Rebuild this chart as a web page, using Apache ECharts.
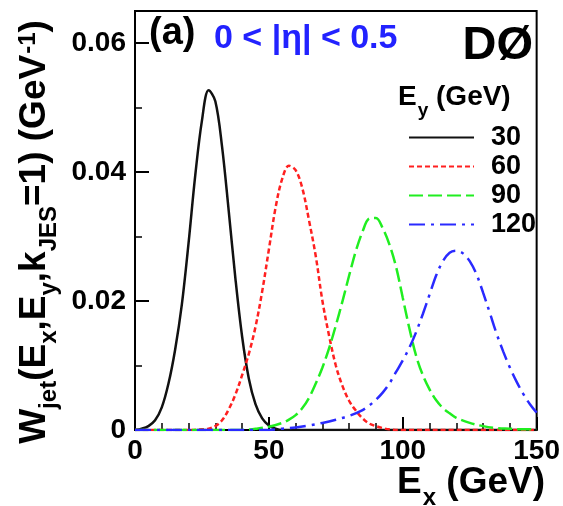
<!DOCTYPE html>
<html>
<head>
<meta charset="utf-8">
<script src="https://cdn.jsdelivr.net/npm/echarts@6/dist/echarts.min.js"></script>
<style>
  html, body { margin: 0; padding: 0; background: #fff; }
  #chart { width: 563px; height: 506px; }
</style>
</head>
<body>
<div id="chart"></div>
<script>
// Jet transfer functions W_jet(Ex, Ey) for four parton energies Ey, 0 < |eta| < 0.5
const seriesNames = ['30', '60', '90', '120'];

const ex30 = [0, 2.5, 5, 7.5, 10, 12.5, 15, 17.5, 20, 22.5, 25, 27.5, 30, 32.5, 35, 37.5, 40, 42.5, 45, 47.5, 50, 52.5, 55, 60, 80, 100, 120, 150];
const w30  = [0, 0.0002, 0.0006, 0.0015, 0.0035, 0.0072, 0.0125, 0.0195, 0.0290, 0.0395, 0.0480, 0.0527, 0.0510, 0.0440, 0.0340, 0.0235, 0.0145, 0.0080, 0.0040, 0.0018, 0.0007, 0.0002, 0, 0, 0, 0, 0, 0];

const ex60 = [0, 20, 25, 27.5, 30, 32.5, 35, 37.5, 40, 42.5, 45, 47.5, 50, 52.5, 55, 57.5, 60, 62.5, 65, 67.5, 70, 72.5, 75, 77.5, 80, 82.5, 85, 87.5, 90, 92.5, 95, 100, 120, 150];
const w60  = [0, 0, 0.0001, 0.0002, 0.0006, 0.0015, 0.0032, 0.0055, 0.0085, 0.0118, 0.0160, 0.0215, 0.0280, 0.0345, 0.0390, 0.0410, 0.0403, 0.0375, 0.0325, 0.0270, 0.0200, 0.0146, 0.0100, 0.0068, 0.0045, 0.0030, 0.0018, 0.0010, 0.0006, 0.0003, 0.0001, 0, 0, 0];

const ex90 = [0, 40, 45, 50, 55, 57.5, 60, 62.5, 65, 67.5, 70, 72.5, 75, 77.5, 80, 82.5, 85, 87.5, 90, 92.5, 95, 97.5, 100, 102.5, 105, 107.5, 110, 112.5, 115, 117.5, 120, 125, 130, 135, 140, 145, 150];
const w90  = [0, 0, 0.0002, 0.0005, 0.0011, 0.0016, 0.0023, 0.0034, 0.0050, 0.0072, 0.0097, 0.0127, 0.0162, 0.0200, 0.0240, 0.0278, 0.0308, 0.0328, 0.0329, 0.0313, 0.0288, 0.0253, 0.0205, 0.0157, 0.0115, 0.0085, 0.0063, 0.0046, 0.0034, 0.0026, 0.0019, 0.0011, 0.0006, 0.0003, 0.0002, 0.0001, 0.0001];

const ex120 = [0, 50, 55, 60, 65, 70, 75, 80, 85, 87.5, 90, 92.5, 95, 97.5, 100, 102.5, 105, 107.5, 110, 112.5, 115, 117.5, 120, 122.5, 125, 127.5, 130, 132.5, 135, 137.5, 140, 142.5, 145, 147.5, 150];
const w120  = [0, 0, 0.0002, 0.0004, 0.0007, 0.0011, 0.0016, 0.0022, 0.0031, 0.0038, 0.0047, 0.0058, 0.0072, 0.0090, 0.0108, 0.0128, 0.0152, 0.0180, 0.0210, 0.0240, 0.0262, 0.0275, 0.0278, 0.0274, 0.0262, 0.0242, 0.0213, 0.0182, 0.0150, 0.0122, 0.0097, 0.0075, 0.0056, 0.0040, 0.0027];

const xTicks = [0, 50, 100, 150];
const yTicks = [0, 0.02, 0.04, 0.06];
const yMinorTicks = [0.01, 0.03, 0.05];

const FONT = '"Liberation Sans", Arial, Helvetica, sans-serif';

function pairs(xs, ys) {
  return xs.map((x, i) => [x, ys[i]]);
}

const styles = [
  { color: '#111111', type: 'solid' },
  { color: '#ff2020', type: [5, 3] },
  { color: '#20ee20', type: [14, 5] },
  { color: '#2a2aff', type: [16, 6, 3, 6] }
];
const curves = [pairs(ex30, w30), pairs(ex60, w60), pairs(ex90, w90), pairs(ex120, w120)];

const chart = echarts.init(document.getElementById('chart'), null, { renderer: 'canvas' });

const option = {
  animation: false,
  backgroundColor: '#ffffff',
  grid: {
    left: 135, right: 19, top: 11, bottom: 76,
    show: true, borderColor: '#000', borderWidth: 2, backgroundColor: 'transparent'
  },
  xAxis: {
    type: 'value',
    min: 0, max: 150, interval: 50,
    axisLine: { show: true, onZero: false, lineStyle: { color: '#000', width: 2 } },
    axisTick: { show: true, inside: true, length: 13, lineStyle: { color: '#000', width: 2 } },
    minorTick: { show: true, splitNumber: 5, length: 7, lineStyle: { color: '#000', width: 1.5 } },
    splitLine: { show: false },
    minorSplitLine: { show: false },
    axisLabel: {
      margin: 7, color: '#000', fontSize: 28, fontWeight: 'bold', fontFamily: FONT,
      customValues: xTicks
    }
  },
  yAxis: [
    {
      type: 'value',
      min: 0, max: 0.065, interval: 0.02,
      position: 'left',
      axisLine: { show: true, onZero: false, lineStyle: { color: '#000', width: 2 } },
      axisTick: { show: true, inside: true, length: 14, lineStyle: { color: '#000', width: 2 }, customValues: yTicks },
      splitLine: { show: false },
      axisLabel: {
        margin: 9, color: '#000', fontSize: 28, fontWeight: 'bold', fontFamily: FONT,
        customValues: yTicks,
        formatter: v => (v === 0 ? '0' : String(+v.toFixed(2)))
      }
    },
    {
      type: 'value',
      min: 0, max: 0.065,
      position: 'left',
      axisLine: { show: false },
      axisTick: { show: true, inside: true, length: 7, lineStyle: { color: '#000', width: 1.5 }, customValues: yMinorTicks },
      axisLabel: { show: false },
      splitLine: { show: false }
    }
  ],
  legend: {
    orient: 'vertical',
    left: 403, top: 119,
    itemWidth: 65, itemHeight: 12, itemGap: 2,
    data: seriesNames,
    itemStyle: { opacity: 0 },
    textStyle: {
      color: '#000', fontSize: 27, fontWeight: 'bold', fontFamily: FONT,
      lineHeight: 27, padding: [0, 0, 0, 12]
    },
    inactiveColor: '#000',
    selectedMode: false
  },
  series: seriesNames.map((name, i) => ({
    name: name,
    type: 'line',
    data: curves[i],
    smooth: 0.35,
    symbol: 'none',
    clip: true,
    z: 3 + i,
    lineStyle: { color: styles[i].color, width: 2.5, type: styles[i].type },
    itemStyle: { color: styles[i].color }
  })),
  graphic: [
    {
      type: 'text', left: 149, top: 15, z: 10,
      style: { text: '(a)', fill: '#000', font: 'bold 38px ' + FONT }
    },
    {
      type: 'text', left: 214, top: 22, z: 10,
      style: { text: '0 < |η| < 0.5', fill: '#2222ff', font: 'bold 34px ' + FONT }
    },
    {
      type: 'text', right: 30, top: 23, z: 10,
      style: { text: 'DØ', fill: '#000', font: 'bold 47px ' + FONT }
    },
    {
      type: 'text', left: 398, top: 83, z: 10,
      style: {
        text: '{m|E}{s|y}{m| (GeV)}',
        rich: {
          m: { fontSize: 28, fontWeight: 'bold', fontFamily: FONT, fill: '#000', lineHeight: 32, verticalAlign: 'top' },
          s: { fontSize: 19, fontWeight: 'bold', fontFamily: FONT, fill: '#000', lineHeight: 19, verticalAlign: 'top', padding: [18, 0, 0, 1] }
        }
      }
    },
    {
      type: 'text', right: 18, top: 464, z: 10,
      style: {
        text: '{m|E}{s|x}{m| (GeV)}',
        rich: {
          m: { fontSize: 37, fontWeight: 'bold', fontFamily: FONT, fill: '#000', lineHeight: 40, verticalAlign: 'top' },
          s: { fontSize: 24, fontWeight: 'bold', fontFamily: FONT, fill: '#000', lineHeight: 24, verticalAlign: 'top', padding: [22, 0, 0, 1] }
        }
      }
    },
    {
      type: 'text', x: 37, y: 232, rotation: Math.PI / 2, z: 10,
      style: {
        text: '{m|W}{s|jet}{m|(E}{s|x}{m|,E}{s|y}{m|,k}{s|JES}{m|=1) (GeV}{p|-1}{m|)}',
        align: 'center', verticalAlign: 'middle',
        rich: {
          m: { fontSize: 37, fontWeight: 'bold', fontFamily: FONT, fill: '#000', lineHeight: 42, verticalAlign: 'top' },
          s: { fontSize: 24, fontWeight: 'bold', fontFamily: FONT, fill: '#000', lineHeight: 24, verticalAlign: 'top', padding: [21, 0, 0, 0] },
          p: { fontSize: 24, fontWeight: 'bold', fontFamily: FONT, fill: '#000', lineHeight: 24, verticalAlign: 'top', padding: [0, 0, 0, 1] }
        }
      }
    }
  ]
};

chart.setOption(option);
</script>
</body>
</html>
